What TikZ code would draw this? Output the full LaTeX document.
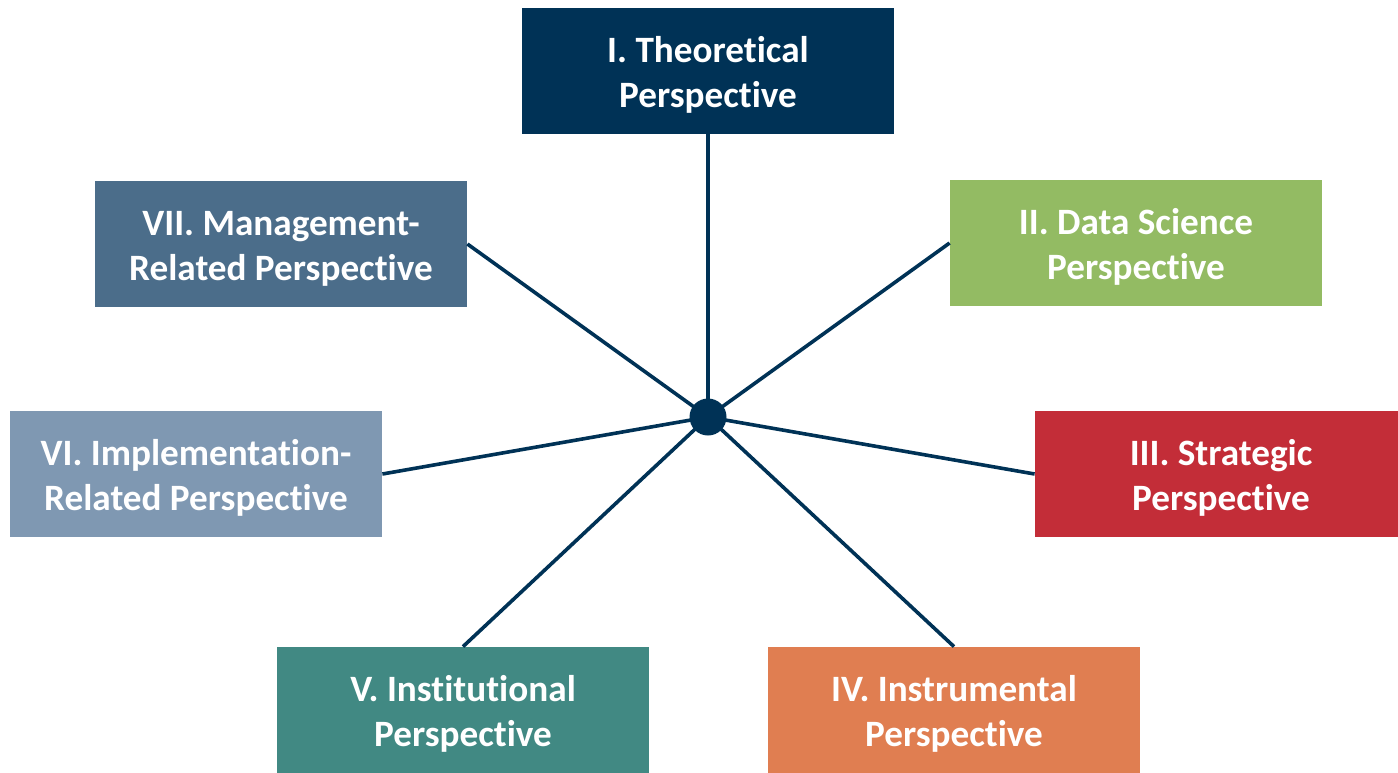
\documentclass[tikz,border=0pt]{standalone}
\usepackage{fontspec}
\setmainfont{Carlito}[Ligatures=CommonOff]
\usepackage{xcolor}
\definecolor{navy}{RGB}{0,50,86}
\definecolor{leaf}{RGB}{147,187,99}
\definecolor{brick}{RGB}{195,45,56}
\definecolor{clay}{RGB}{224,126,81}
\definecolor{sea}{RGB}{65,137,131}
\definecolor{mist}{RGB}{127,152,178}
\definecolor{slate}{RGB}{75,109,138}
\tikzset{persp/.style={rectangle, minimum width=186pt, minimum height=63pt, inner sep=0pt,
    align=center, text=white, font=\fontsize{18.6}{22.2}\selectfont\bfseries,
    text height=39pt},
  spoke/.style={draw=navy, line width=1.8pt}}

\begin{document}
\begin{tikzpicture}[x=0.5pt,y=-0.5pt]
\clip (0,0) rectangle (1398,772);
\node[persp, fill=navy] (th) at (708,71) {I. Theoretical\\Perspective};
\node[persp, fill=leaf] (ds) at (1136,243) {II. Data Science\\Perspective};
\node[persp, fill=brick] (st) at (1221,474) {III. Strategic\\Perspective};
\node[persp, fill=clay] (ins) at (954,710) {IV. Instrumental\\Perspective};
\node[persp, fill=sea] (inst) at (463,710) {V. Institutional\\Perspective};
\node[persp, fill=mist] (imp) at (196,474) {VI. Implementation-\\Related Perspective};
\node[persp, fill=slate] (mgt) at (281,244) {VII. Management-\\Related Perspective};
\coordinate (hub) at (708,417);
\draw[spoke] (hub) -- (th.south);
\draw[spoke] (hub) -- (ds.west);
\draw[spoke] (hub) -- (st.west);
\draw[spoke] (hub) -- (ins.north);
\draw[spoke] (hub) -- (inst.north);
\draw[spoke] (hub) -- (imp.east);
\draw[spoke] (hub) -- (mgt.east);
\fill[navy] (hub) circle (9.25pt);
\end{tikzpicture}
\end{document}
